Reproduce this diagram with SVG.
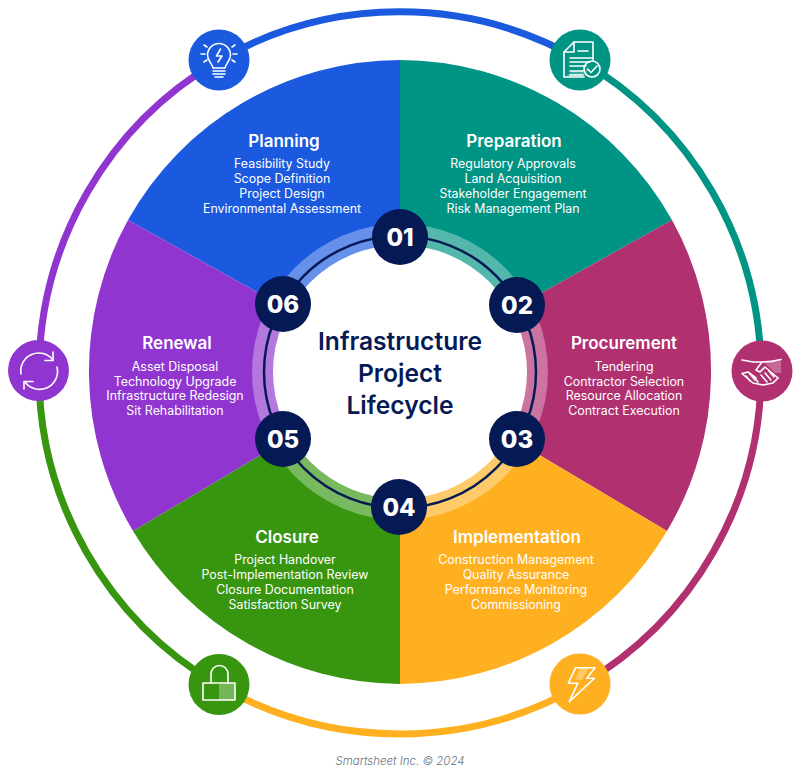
<svg xmlns="http://www.w3.org/2000/svg" width="800" height="782" viewBox="0 0 800 782">
<style>
text{font-family:"Inter","Lato","Noto Sans",sans-serif;text-anchor:middle;fill:#fff}
.h{font-size:17px;font-weight:600}
.i{font-size:12.400px;font-weight:400}
.n{font-size:24px;font-weight:800}
.t{font-size:24.600px;font-weight:600;fill:#051a54}
.f{font-size:11.500px;font-style:italic;font-weight:300;fill:#6b7280}
.ring{fill:none;stroke-width:7}
.ic{fill:none;stroke:#fff;stroke-width:1.6;stroke-linecap:round;stroke-linejoin:round}
.bub{fill:#051a54}
</style>
<rect width="800" height="782" fill="#fff"/>
<g id="connectors">
<path class="ring" stroke="#1b5ade" d="M218 61A361 361 0 0 1 580 60"/>
<path class="ring" stroke="#009484" d="M580 60A361 361 0 0 1 761 371"/>
<path class="ring" stroke="#b03070" d="M761 371A361 361 0 0 1 581 685"/>
<path class="ring" stroke="#ffb020" d="M581 685A361 361 0 0 1 218 685"/>
<path class="ring" stroke="#37950f" d="M218 685A361 361 0 0 1 39 371"/>
<path class="ring" stroke="#9035d0" d="M39 371A361 361 0 0 1 218 61"/>
</g>
<g id="planning">
<path d="M400 372L128 220A312 312 0 0 1 400 60Z" fill="#1b5ade"/>
<text class="h" x="284" y="147">Planning</text>
<text class="i" x="282" y="168">Feasibility Study</text>
<text class="i" x="282" y="183">Scope Definition</text>
<text class="i" x="282" y="198">Project Design</text>
<text class="i" x="282" y="213">Environmental Assessment</text>
</g>
<g id="preparation">
<path d="M400 372V60A312 312 0 0 1 672 220Z" fill="#009484"/>
<text class="h" x="514" y="147">Preparation</text>
<text class="i" x="513" y="168">Regulatory Approvals</text>
<text class="i" x="513" y="183">Land Acquisition</text>
<text class="i" x="513" y="198">Stakeholder Engagement</text>
<text class="i" x="513" y="213">Risk Management Plan</text>
</g>
<g id="procurement">
<path d="M400 372L672 220A312 312 0 0 1 667 531Z" fill="#b03070"/>
<text class="h" x="624" y="349">Procurement</text>
<text class="i" x="624" y="371">Tendering</text>
<text class="i" x="624" y="386">Contractor Selection</text>
<text class="i" x="624" y="400">Resource Allocation</text>
<text class="i" x="624" y="415">Contract Execution</text>
</g>
<g id="implementation">
<path d="M400 372L667 531A312 312 0 0 1 400 684Z" fill="#ffb020"/>
<text class="h" x="517" y="543">Implementation</text>
<text class="i" x="516" y="564">Construction Management</text>
<text class="i" x="516" y="579">Quality Assurance</text>
<text class="i" x="516" y="594">Performance Monitoring</text>
<text class="i" x="516" y="609">Commissioning</text>
</g>
<g id="closure">
<path d="M400 372V684A312 312 0 0 1 133 531Z" fill="#37950f"/>
<text class="h" x="287" y="543">Closure</text>
<text class="i" x="285" y="564">Project Handover</text>
<text class="i" x="285" y="579">Post-Implementation Review</text>
<text class="i" x="285" y="594">Closure Documentation</text>
<text class="i" x="285" y="609">Satisfaction Survey</text>
</g>
<g id="renewal">
<path d="M400 372L133 531A312 312 0 0 1 128 220Z" fill="#9035d0"/>
<text class="h" x="177" y="349">Renewal</text>
<text class="i" x="175" y="371">Asset Disposal</text>
<text class="i" x="175" y="386">Technology Upgrade</text>
<text class="i" x="175" y="400">Infrastructure Redesign</text>
<text class="i" x="175" y="415">Sit Rehabilitation</text>
</g>
<g id="center">
<circle cx="400" cy="372" r="148" fill="#fff" fill-opacity=".33"/>
<circle cx="400" cy="372" r="127" fill="#fff"/>
<circle cx="400" cy="372" r="136" fill="none" stroke="#051a54" stroke-width="2.500"/>
<text class="t" x="400" y="350">Infrastructure</text>
<text class="t" x="400" y="382">Project</text>
<text class="t" x="400" y="414">Lifecycle</text>
</g>
<g id="step-01"><circle class="bub" cx="400" cy="237" r="28"/><text class="n" x="400" y="245.500">01</text></g>
<g id="step-02"><circle class="bub" cx="517" cy="305" r="28"/><text class="n" x="517" y="313.500">02</text></g>
<g id="step-03"><circle class="bub" cx="517" cy="439" r="28"/><text class="n" x="517" y="447.500">03</text></g>
<g id="step-04"><circle class="bub" cx="399" cy="507" r="28"/><text class="n" x="399" y="515.500">04</text></g>
<g id="step-05"><circle class="bub" cx="283" cy="439" r="28"/><text class="n" x="283" y="447.500">05</text></g>
<g id="step-06"><circle class="bub" cx="283" cy="304" r="28"/><text class="n" x="283" y="312.500">06</text></g>
<g id="icon-planning">
<circle cx="219" cy="60" r="30.500" fill="#1b5ade"/>
<g class="ic">
<path d="M213 68C212 63 207.500 61 207.500 55A11.500 11.500 0 0 1 230.500 55C230.500 61 226 63 225 68Z"/>
<path d="M213 71H225M213 74H225M215 77H223"/>
<path d="M220.500 49L216.500 56H222L218 62"/>
<path d="M201 54H205M233 54H237M204 45L207 47M235 45L232 47M204 62L207 60M235 62L232 60"/>
</g></g>
<g id="icon-preparation">
<circle cx="580" cy="60" r="30.500" fill="#009484"/>
<path d="M572 71L588 70L585 76H566Z" fill="#fff" fill-opacity=".25"/>
<g class="ic">
<path d="M593 60V42H574L564 52V77H584"/>
<path d="M574 42V52H564M578 51H588M570 58H593M570 62H590M570 66H586M570 71H583M570 75H583"/>
<circle cx="592" cy="69" r="8"/>
<path d="M587.500 69L591 72.500L597 66"/>
</g></g>
<g id="icon-procurement">
<circle cx="762" cy="371" r="30.500" fill="#b03070"/>
<path d="M762 362L781 361V373L775 373L765 363Z" fill="#fff" fill-opacity=".28"/>
<g class="ic">
<path d="M742 360Q748 361 753 362L761 362"/>
<path d="M781 359.500Q772 362 762 362L756 370L760 372L765 367L778 378"/>
<path d="M778 378L773 383L763 385L753 383L746 377L742 373.500L748 372L756 378"/>
<path d="M746 376L750 381M750 374L755 380M754 377L758 382M761 375L767 382M765 373L771 380M769 371L774 377"/>
</g></g>
<g id="icon-implementation">
<circle cx="580" cy="684" r="30.500" fill="#ffb020"/>
<path d="M580 668H589L582 680H575Z" fill="#fff" fill-opacity=".3"/>
<path class="ic" d="M575.700 667.700H595L586.700 678.300H594.300L569.300 701.700L577.700 683.300H568.300Z"/>
</g>
<g id="icon-closure">
<circle cx="219" cy="684.500" r="30.500" fill="#37950f"/>
<rect x="219" y="683" width="16" height="17" fill="#fff" fill-opacity=".3"/>
<g class="ic">
<rect x="203" y="683" width="32" height="17"/>
<path d="M211 683V674A8.500 8.500 0 0 1 228 674V683"/>
</g></g>
<g id="icon-renewal">
<circle cx="38.500" cy="370.500" r="30.500" fill="#9035d0"/>
<g class="ic">
<path d="M21 374A18 18 0 0 1 53 360"/><path d="M53 352V360.500H45"/>
<path d="M57 367A18 18 0 0 1 25 382"/><path d="M24 389V381.500H33"/>
</g></g>
<text class="f" x="400" y="765">Smartsheet Inc. © 2024</text>
</svg>
